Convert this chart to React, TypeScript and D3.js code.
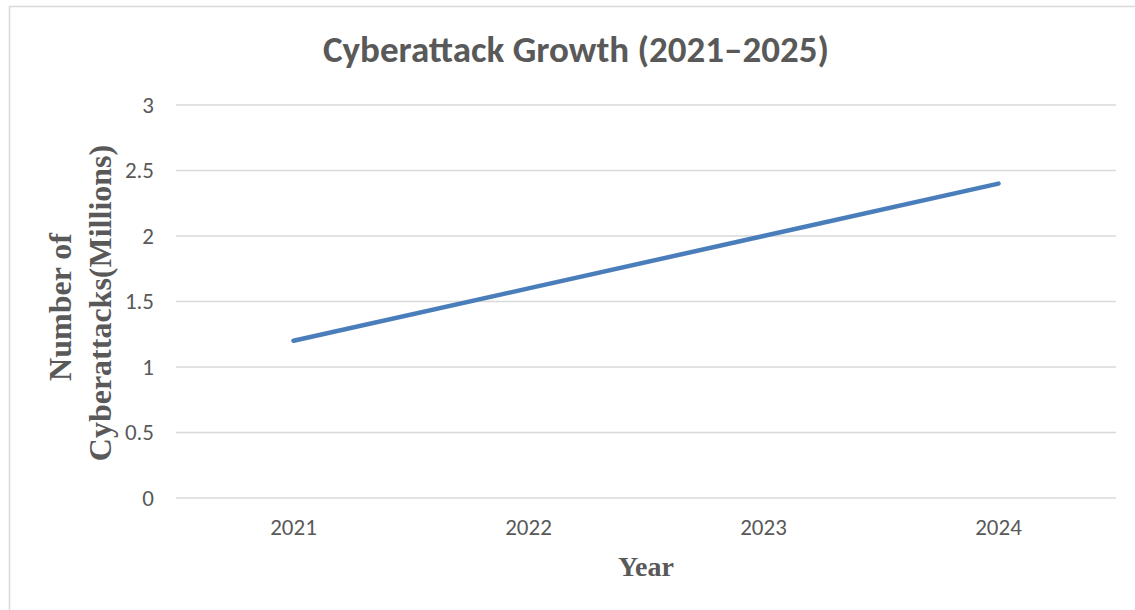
import React from "react";
import * as d3 from "d3";

const years = ["2021", "2022", "2023", "2024"];
const attacks = [1.2, 1.6, 2.0, 2.4];
const yTicks = [0, 0.5, 1, 1.5, 2, 2.5, 3];

export default function App() {
  const W = 1135, H = 610;
  const x = d3.scaleBand<string>().domain(years).range([176, 1116]);
  const y = d3.scaleLinear().domain([0, 3]).range([498, 105]);
  const line = d3
    .line<number>()
    .x((_, i) => (x(years[i]) as number) + x.bandwidth() / 2)
    .y((d) => y(d));
  const sans = "Carlito, Lato, 'Open Sans', sans-serif";
  const serif = "'Liberation Serif', 'DejaVu Serif', serif";
  return (
    <svg
      width={W}
      height={H}
      style={{ position: "absolute", left: 0, top: 0, background: "#fff" }}
    >
      <rect x={9.5} y={6.5} width={W} height={H} fill="#fff" stroke="#d9d9d9" strokeWidth={1.5} />
      <text
        x={576}
        y={62}
        textAnchor="middle"
        fontFamily={sans}
        fontWeight="bold"
        fontSize={37}
        fill="#595959"
      >
        Cyberattack Growth (2021–2025)
      </text>
      {yTicks.map((t) => (
        <g key={t}>
          <line x1={176} x2={1116} y1={y(t)} y2={y(t)} stroke="#d9d9d9" strokeWidth={1.3} />
          <text
            x={154}
            y={y(t)}
            dy="0.34em"
            textAnchor="end"
            fontFamily={sans}
            fontSize={23}
            fill="#595959"
          >
            {t}
          </text>
        </g>
      ))}
      {years.map((yr) => (
        <text
          key={yr}
          x={(x(yr) as number) + x.bandwidth() / 2}
          y={535}
          textAnchor="middle"
          fontFamily={sans}
          fontSize={23}
          fill="#595959"
        >
          {yr}
        </text>
      ))}
      <path
        d={line(attacks) || ""}
        fill="none"
        stroke="#4a7ebb"
        strokeWidth={4.5}
        strokeLinecap="round"
        strokeLinejoin="round"
      />
      <g transform="translate(0,303) rotate(-90)">
        <text
          x={-4}
          y={71}
          textAnchor="middle"
          fontFamily={serif}
          fontWeight="bold"
          fontSize={32}
          fill="#595959"
        >
          Number of
        </text>
        <text
          x={0}
          y={111}
          textAnchor="middle"
          fontFamily={serif}
          fontWeight="bold"
          fontSize={32}
          fill="#595959"
        >
          Cyberattacks(Millions)
        </text>
      </g>
      <text
        x={646}
        y={576}
        textAnchor="middle"
        fontFamily={serif}
        fontWeight="bold"
        fontSize={28}
        fill="#595959"
      >
        Year
      </text>
    </svg>
  );
}
